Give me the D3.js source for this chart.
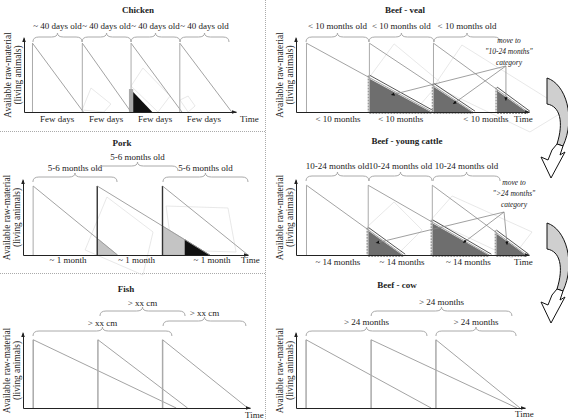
<!DOCTYPE html>
<html><head><meta charset="utf-8">
<script src="https://cdn.jsdelivr.net/npm/d3@7"></script>
<style>body{margin:0;background:#fff}svg{display:block}text{font-family:"Liberation Serif","Times New Roman",serif;fill:#222}</style>
</head><body><svg id="c" width="568" height="420"></svg>
<script>
// ================= DATA (time and amount in relative units 0-100) =================
// Chicken
const chickenStarts=[4,27.5,50.5,73.5];
const chickenEnds=[28,50.5,74.5,98];
const chickenPeak=93;
const chickenBraceFrom=[4.2,27.4,50.5,73.6];
const chickenBraceTo=[27.4,50.5,73.6,96.7];
const chickenBraceRow=[0,0,0,0];
const chickenBraceLabels=["~ 40 days old","~ 40 days old","~ 40 days old","~ 40 days old"];
const chickenBottomPos=[15.6,38.7,61.8,84.9];
const chickenBottomLabels=["Few days","Few days","Few days","Few days"];
const chickenBlack=[[51.5,27],[60.5,0],[51.5,0]];
const chickenStrip=[[49.5,31],[51.5,31],[51.5,0],[49.5,0]];
const chickenFaint=[[[27.4,2.7],[31.6,32.4],[41,10.8],[37.7,0]],[[50.5,35.1],[56.1,59.5],[68.9,21.6],[63.2,0]],[[73.6,16.2],[77.4,21.6],[80.7,8.1],[77.4,0]]];

// Pork
const porkStarts=[4.5,33,62];
const porkEnds=[42,83,100];
const porkPeak=92;
const porkBraceFrom=[4.4,32.9,62.2];
const porkBraceTo=[41.8,68.9,100];
const porkBraceRow=[1,0,1];
const porkBraceLabels=["5-6 months old","5-6 months old","5-6 months old"];
const porkBottomPos=[20,50.5,84];
const porkBottomLabels=["~ 1 month","~ 1 month","~ 1 month"];
const porkShadeDiag=[0,1,1];
const porkShadeFrom=[33,62,72];
const porkShadeTo=[42,72,83];
const porkShadeTone=["light","light","dark"];
const porkFaint=[[[27.6,6.7],[37.3,77.3],[57.8,30.7],[53.3,-26.7]],[[63.6,65.3],[91.1,62.7],[94.7,4],[66.2,6.7]]];

// Fish
const fishStarts=[4.5,33,61.5];
const fishEnds=[67.5,72.5,99];
const fishPeak=91;
const fishBraceFrom=[4.4,33.9,61.7];
const fishBraceTo=[65.6,71.4,98.2];
const fishBraceRow=[2,0,1];
const fishBraceLabels=["> xx cm","> xx cm","> xx cm"];

// Beef - veal
const vealStarts=[4.5,31.5,59,86.3];
const vealEnds=[58.5,76,99.5];
const vealPeak=93;
const vealBraceFrom=[4.3,31.3,59.2];
const vealBraceTo=[31.3,59.2,87.6];
const vealBraceRow=[0,0,0];
const vealBraceLabels=["< 10 months old","< 10 months old","< 10 months old"];
const vealBottomPos=[18,45,81.5];
const vealBottomLabels=["< 10 months","< 10 months","< 10 months"];
const vealMarkers=[[40.8,23],[67.4,10.8],[90.1,14.9]];
const vealNotePoint=[90.1,62.2];
const vealNote=["move to","\"10-24 months\"","category"];
const vealFaint=[[[31.3,46],[42.1,92],[61.8,40.5],[50.6,0]],[[59.2,35],[71.2,90.5],[115.9,2.7],[100.4,-27]]];

// Beef - young cattle
const youngStarts=[4.5,31,58.5,86];
const youngEnds=[46,83,99];
const youngPeak=93;
const youngBraceFrom=[4.3,31.3,58.8];
const youngBraceTo=[31.3,58.4,87.6];
const youngBraceRow=[0,0,0];
const youngBraceLabels=["10-24 months old","10-24 months old","10-24 months old"];
const youngBottomPos=[18,45.5,74];
const youngBottomLabels=["~ 14 months","~ 14 months","~ 14 months"];
const youngMarkers=[[34.3,16],[71.7,16],[90.6,13.3]];
const youngNotePoint=[89.3,57.3];
const youngNote=["move to","\">24 months\"","category"];
const youngFaint=[[[30.5,37.3],[42.1,70.7],[54.1,33.3],[43.3,0]],[[57.9,46.7],[67,78.7],[101.3,30.7],[92.7,-4]]];

// Beef - cow
const cowStarts=[4.4,32.8,61.1];
const cowEnds=[59,96.5,97.8];
const cowPeak=91;
const cowBraceFrom=[4.4,32.8,61.1];
const cowBraceTo=[57.2,94.3,96.1];
const cowBraceRow=[2,0,2];
const cowBraceLabels=["> 24 months","> 24 months","> 24 months"];

// ================= DRAWING =================
const svg=d3.select("#c");
const defs=svg.append("defs");
defs.append("marker").attr("id","ah").attr("viewBox","0 0 10 10").attr("refX",9).attr("refY",5)
  .attr("markerWidth",5).attr("markerHeight",5).attr("orient","auto")
  .append("path").attr("d","M0,1L10,5L0,9Z").attr("fill","#111");

// dividers
svg.append("line").attr("x1",265.5).attr("x2",265.5).attr("y1",0).attr("y2",420)
  .attr("stroke","#aaa").attr("stroke-dasharray","1,1");
[131.5,273.5].forEach(yy=>svg.append("line").attr("x1",0).attr("x2",265).attr("y1",yy).attr("y2",yy)
  .attr("stroke","#aaa").attr("stroke-dasharray","1,1"));

function bracePath(x1,x2,yt){
  const yh=yt+4, ye=yt+9, xm=(x1+x2)/2, q=Math.min(6,(x2-x1)/6);
  return `M${x1},${ye}Q${x1},${yh} ${x1+q},${yh}L${xm-q},${yh}Q${xm},${yh} ${xm},${yt}Q${xm},${yh} ${xm+q},${yh}L${x2-q},${yh}Q${x2},${yh} ${x2},${ye}`;
}

function drawPanel(L,D){
  const x=d3.scaleLinear().domain([0,100]).range([L.x0,L.x1]);
  const y=d3.scaleLinear().domain([0,100]).range([L.base,L.top]);
  const g=svg.append("g");
  const ln=d3.line().x(d=>x(d[0])).y(d=>y(d[1]));
  // faint background shapes
  (D.faint||[]).forEach(p=>g.append("path").attr("d",ln(p.concat([p[0]])))
    .attr("fill","none").attr("stroke","#e2e2e2").attr("stroke-width",0.8));
  // title
  g.append("text").attr("x",L.titleX).attr("y",L.titleY).attr("text-anchor","middle")
    .attr("font-weight","bold").attr("font-size",9).text(D.title);
  // y labels
  const cy=(L.base+L.top)/2;
  g.append("text").attr("transform",`translate(${L.x0-13},${cy}) rotate(-90)`).attr("text-anchor","middle")
    .attr("font-size",9.3).text("Available raw-material");
  g.append("text").attr("transform",`translate(${L.x0-3},${cy}) rotate(-90)`).attr("text-anchor","middle")
    .attr("font-size",9.3).text("(living animals)");
  // shaded areas (under diagonals)
  const val=(i,t)=>D.peak*(D.ends[i]-t)/(D.ends[i]-D.starts[i]);
  (D.shades||[]).forEach(s=>{
    const pts=[[s.from,0],[s.from,val(s.diag,s.from)],[s.to,val(s.diag,s.to)],[s.to,0]];
    g.append("path").attr("d",ln(pts)+"Z").attr("fill",s.tone==="dark"?"#111":"#c4c4c4")
      .attr("stroke",s.tone==="dark"?"#111":"#aaa").attr("stroke-width",0.5);
  });
  (D.extraPolys||[]).forEach(p=>g.append("path").attr("d",ln(p.pts)+"Z").attr("fill",p.fill).attr("stroke","none"));
  // beef triangles
  if(D.beef){
    for(let i=0;i<D.ends.length;i++){
      const s1=D.starts[i+1], e=D.ends[i], v=val(i,s1);
      g.append("path").attr("d",ln([[s1,0],[s1,v],[e,0]])+"Z").attr("fill","#6e6e6e");
      g.append("line").attr("x1",x(s1)+1).attr("y1",y(v)+0.5).attr("x2",x(e)).attr("y2",y(0)-0.5)
        .attr("stroke","#fff").attr("stroke-width",2);
      g.append("line").attr("x1",x(s1)).attr("y1",y(v)-2.5).attr("x2",x(e)+2).attr("y2",y(0)-0.8)
        .attr("stroke","#444").attr("stroke-width",0.9);
      g.append("line").attr("x1",x(s1)-1).attr("y1",y(v)-2).attr("x2",x(s1)-1).attr("y2",y(0))
        .attr("stroke","#999").attr("stroke-width",1.5).attr("stroke-dasharray","2,1");
      g.append("line").attr("x1",x(s1)).attr("y1",y(0)+1.5).attr("x2",x(e)).attr("y2",y(0)+1.5)
        .attr("stroke","#999").attr("stroke-width",1).attr("stroke-dasharray","2,1");
    }
  }
  // verticals and diagonals
  D.ends.forEach((e,i)=>{
    const s=D.starts[i];
    g.append("line").attr("x1",x(s)).attr("x2",x(s)).attr("y1",y(0)).attr("y2",y(D.peak))
      .attr("stroke",L.vStroke[i]).attr("stroke-width",L.vWidth[i]);
    g.append("line").attr("x1",x(s)).attr("y1",y(D.peak)).attr("x2",x(e)).attr("y2",y(0))
      .attr("stroke","#999").attr("stroke-width",0.9);
  });
  // axes
  const xa=g.append("g").attr("transform",`translate(0,${L.base})`).call(d3.axisBottom(x).tickValues([]).tickSizeOuter(0));
  xa.select(".domain").attr("stroke","#222");
  const ya=g.append("g").attr("transform",`translate(${L.x0},0)`).call(d3.axisLeft(y).tickValues([]).tickSizeOuter(0));
  ya.select(".domain").attr("stroke","#222");
  g.append("path").attr("d",`M${x(100)-4},${L.base-1.8}L${x(100)+1},${L.base}L${x(100)-4},${L.base+1.8}Z`).attr("fill","#222");
  g.append("path").attr("d",`M${L.x0-1.8},${L.top+4}L${L.x0},${L.top-1}L${L.x0+1.8},${L.top+4}Z`).attr("fill","#222");
  // braces
  D.braceFrom.forEach((f,i)=>{
    const yt=L.rows[D.braceRow[i]];
    g.append("path").attr("d",bracePath(x(f),x(D.braceTo[i]),yt)).attr("fill","none")
      .attr("stroke","#aaa").attr("stroke-width",1);
    g.append("text").attr("x",(x(f)+x(D.braceTo[i]))/2).attr("y",yt+L.labelDy).attr("text-anchor","middle")
      .attr("font-size",9).text(D.braceLabels[i]);
  });
  // bottom labels
  (D.bottomPos||[]).forEach((p,i)=>g.append("text").attr("x",x(p)).attr("y",L.bottomY)
    .attr("text-anchor","middle").attr("font-size",9).text(D.bottomLabels[i]));
  g.append("text").attr("x",L.timeX).attr("y",L.timeY).attr("font-size",9).text("Time");
  // move-to notes
  if(D.markers){
    D.markers.forEach(m=>g.append("line").attr("x1",x(D.notePoint[0])).attr("y1",y(D.notePoint[1]))
      .attr("x2",x(m[0])).attr("y2",y(m[1])).attr("stroke","#888").attr("stroke-width",0.8)
      .attr("marker-end","url(#ah)"));
    D.note.forEach((t,i)=>g.append("text").attr("x",L.noteX).attr("y",L.noteY+i*11).attr("text-anchor","middle")
      .attr("font-size",7.5).attr("font-style","italic").text(t));
  }
}

drawPanel({x0:24,x1:236,base:112,top:38,titleX:138,titleY:13,rows:[33],labelDy:-4,bottomY:122,timeX:240,timeY:122,
  vStroke:["#aaa","#aaa","#aaa","#aaa"],vWidth:[1,1,1,1]},
 {title:"Chicken",starts:chickenStarts,ends:chickenEnds,peak:chickenPeak,braceFrom:chickenBraceFrom,braceTo:chickenBraceTo,
  braceRow:chickenBraceRow,braceLabels:chickenBraceLabels,bottomPos:chickenBottomPos,bottomLabels:chickenBottomLabels,
  faint:chickenFaint,extraPolys:[{pts:chickenStrip,fill:"#aaa"},{pts:chickenBlack,fill:"#111"}]});

drawPanel({x0:23,x1:248,base:255,top:180,titleX:122,titleY:146,rows:[162,173],labelDy:-2,bottomY:263,timeX:241,timeY:263,
  vStroke:["#aaa","#333","#333"],vWidth:[1,1.4,1.4]},
 {title:"Pork",starts:porkStarts,ends:porkEnds,peak:porkPeak,braceFrom:porkBraceFrom,braceTo:porkBraceTo,
  braceRow:porkBraceRow,braceLabels:porkBraceLabels,bottomPos:porkBottomPos,bottomLabels:porkBottomLabels,faint:porkFaint,
  shades:porkShadeDiag.map((d,i)=>({diag:d,from:porkShadeFrom[i],to:porkShadeTo[i],tone:porkShadeTone[i]}))});

drawPanel({x0:23,x1:250,base:408,top:333,titleX:126,titleY:292,rows:[307,317,327],labelDy:-1.5,timeX:245,timeY:417.5,
  vStroke:["#aaa","#aaa","#aaa"],vWidth:[1.5,1.5,1.5]},
 {title:"Fish",starts:fishStarts,ends:fishEnds,peak:fishPeak,braceFrom:fishBraceFrom,braceTo:fishBraceTo,
  braceRow:fishBraceRow,braceLabels:fishBraceLabels});

drawPanel({x0:296,x1:529,base:112,top:38,titleX:405,titleY:13,rows:[33],labelDy:-4,bottomY:122,timeX:514,timeY:122,
  vStroke:["#aaa","#aaa","#aaa"],vWidth:[1,1,1],noteX:509,noteY:43},
 {title:"Beef - veal",starts:vealStarts,ends:vealEnds,peak:vealPeak,braceFrom:vealBraceFrom,braceTo:vealBraceTo,
  braceRow:vealBraceRow,braceLabels:vealBraceLabels,bottomPos:vealBottomPos,bottomLabels:vealBottomLabels,beef:true,
  markers:vealMarkers,notePoint:vealNotePoint,note:vealNote,faint:vealFaint});

drawPanel({x0:296,x1:529,base:255,top:180,titleX:407,titleY:144,rows:[172],labelDy:-3.5,bottomY:265,timeX:514,timeY:265,
  vStroke:["#aaa","#aaa","#aaa"],vWidth:[1,1,1],noteX:514,noteY:185},
 {title:"Beef - young cattle",starts:youngStarts,ends:youngEnds,peak:youngPeak,braceFrom:youngBraceFrom,braceTo:youngBraceTo,
  braceRow:youngBraceRow,braceLabels:youngBraceLabels,bottomPos:youngBottomPos,bottomLabels:youngBottomLabels,beef:true,
  markers:youngMarkers,notePoint:youngNotePoint,note:youngNote,faint:youngFaint});

drawPanel({x0:296,x1:525,base:408,top:333,titleX:397,titleY:288,rows:[307,317,327],labelDy:-2,timeX:515,timeY:417,
  vStroke:["#aaa","#aaa","#aaa"],vWidth:[1.5,1.5,1.5]},
 {title:"Beef - cow",starts:cowStarts,ends:cowEnds,peak:cowPeak,braceFrom:cowBraceFrom,braceTo:cowBraceTo,
  braceRow:cowBraceRow,braceLabels:cowBraceLabels});

// curved transition arrows between beef panels
[0,145].forEach(dy=>{
  const a=svg.append("g").attr("transform",`translate(0,${dy})`);
  a.append("path").attr("d","M547,78C566,84 576,118 563,146L557,144C564,122 560,106 547,104Z")
    .attr("fill","#cfcfcf").attr("stroke","#111").attr("stroke-width",1);
  a.append("path").attr("d","M557,144L563,146L560,155L565,152L551,178L541,157L548,160L552,150Z")
    .attr("fill","#fff").attr("stroke","#111").attr("stroke-width",1);
});
</script></body></html>
